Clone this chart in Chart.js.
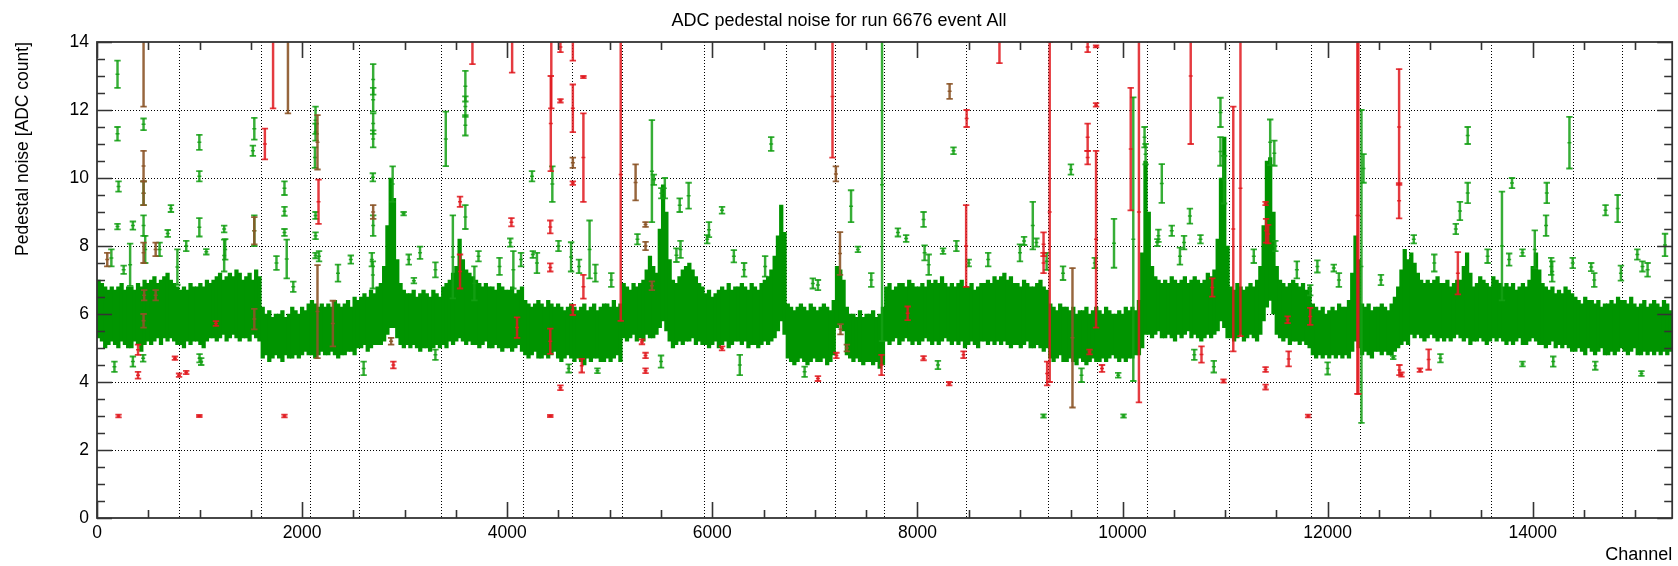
<!DOCTYPE html>
<html><head><meta charset="utf-8">
<script src="https://cdn.jsdelivr.net/npm/chart.js@4"></script>
<style>html,body{margin:0;padding:0;background:#fff;overflow:hidden}canvas{display:block}</style>
</head><body>
<canvas id="c" width="1678" height="566"></canvas>
<script>
// ---- axis / category data ----
const channelMax = 15360;
const binWidth = 32; // channels per band bin
const xTickValues = [0, 2000, 4000, 6000, 8000, 10000, 12000, 14000];
const yTickValues = [0, 2, 4, 6, 8, 10, 12, 14];
const moduleEdges = [800,1600,2080,2560,3360,4160,4640,5120,5920,6720,7200,7680,8480,9280,9760,10240,11040,11840,12320,12800,13600,14400,14880];

// ---- dense green band: upper / lower extent per 32-channel bin ----
const bandHi = [
7.0,6.9,6.8,6.7,6.8, 6.7,6.8,6.9,6.7,6.8,
6.8,6.7,6.9,6.8,7.0, 6.9,7.0,7.1,6.9,7.0,
7.1,7.2,7.0,6.9,6.8, 6.7,6.8,6.7,6.9,6.8,
6.8,6.9,6.8,7.0,6.9, 7.0,7.1,7.2,7.0,7.1,
7.2,7.1,7.3,7.2,7.0, 7.1,7.2,7.0,7.3,7.1,
6.2,6.0,6.1,5.9,6.0, 6.0,6.1,5.9,6.0,6.2,
6.1,6.0,6.2,6.1,6.3, 6.4,6.3,6.2,6.3,6.2,
6.3,6.2,6.4,6.3,6.2, 6.3,6.4,6.2,6.5,6.4,
6.5,6.6,6.5,6.7,6.6, 6.8,6.9,7.4,8.6,10.0,
9.4,7.6,6.9,6.7,6.6, 6.6,6.7,6.5,6.6,6.7,
6.6,6.5,6.7,6.6,6.5, 6.8,6.9,7.0,7.2,7.4,
8.2,7.6,7.3,7.2,7.1, 7.0,6.9,6.8,6.9,6.8,
6.8,6.7,6.9,6.8,6.7, 6.7,6.8,6.6,6.7,6.8,
6.4,6.3,6.2,6.3,6.4, 6.3,6.2,6.4,6.3,6.2,
6.3,6.2,6.1,6.2,6.3, 6.2,6.1,6.2,6.3,6.1,
6.2,6.3,6.1,6.2,6.3, 6.3,6.2,6.4,6.2,6.3,
6.9,6.8,6.7,6.9,6.8, 6.9,7.0,7.3,7.7,7.4,
7.2,8.5,9.8,9.0,7.6, 7.0,6.9,7.1,7.3,7.4,
7.5,7.3,7.1,6.9,6.8, 6.6,6.7,6.5,6.6,6.7,
6.8,6.7,6.9,6.7,6.8, 6.8,6.9,6.8,6.7,6.9,
6.8,6.7,6.9,7.0,7.1, 7.3,7.7,8.3,9.2,8.4,
6.3,6.2,6.1,6.2,6.3, 6.2,6.1,6.3,6.2,6.1,
6.2,6.3,6.2,6.1,6.4, 7.4,7.3,7.0,6.2,6.0,
6.0,5.9,6.1,5.9,6.0, 6.0,6.1,5.9,6.0,6.2,
6.8,6.9,6.7,6.8,6.9, 6.9,6.8,7.0,6.9,6.8,
6.8,6.9,6.8,7.0,6.9, 7.0,6.9,7.1,6.9,6.8,
6.9,6.8,6.9,7.0,6.8, 6.8,6.9,6.7,6.8,6.9,
6.9,7.0,6.9,7.1,7.0, 7.1,7.2,7.0,7.1,6.9,
6.9,6.8,7.0,6.9,6.8, 6.8,6.9,7.0,6.8,6.7,
6.3,6.2,6.1,6.3,6.2, 6.2,6.1,6.2,6.0,6.1,
6.1,6.2,6.0,6.1,6.2, 6.1,6.0,6.2,6.1,6.0,
6.0,6.1,6.0,6.2,6.1, 6.2,6.1,6.4,7.8,10.5,
9.0,7.4,7.1,7.0,6.9, 7.0,6.9,7.1,7.0,6.9,
7.0,7.1,6.9,7.0,7.1, 7.0,6.9,7.0,7.2,7.1,
7.3,8.2,10.0,11.2,8.0, 6.8,6.7,6.9,6.8,6.7,
6.8,6.9,6.8,7.0,7.4, 8.6,10.5,10.6,9.0,7.4,
7.0,6.9,6.8,6.9,7.0, 6.9,6.8,6.9,6.7,6.8,
6.3,6.2,6.1,6.2,6.0, 6.1,6.2,6.1,6.3,6.2,
6.2,6.4,7.2,8.3,7.6, 6.3,6.2,6.3,6.1,6.2,
6.2,6.3,6.2,6.1,6.3, 6.5,6.8,7.3,7.9,7.6,
7.8,7.5,7.2,7.0,6.9, 7.0,6.9,7.0,7.1,6.9,
6.9,7.0,6.8,6.9,7.0, 7.0,7.4,7.8,7.2,6.8,
6.9,7.1,7.0,6.9,6.8, 7.1,7.0,6.9,6.8,6.9,
6.8,6.9,6.7,6.8,6.9, 6.8,7.0,7.4,7.8,7.3,
6.9,6.8,6.7,6.8,6.6, 6.7,6.6,6.8,6.7,6.6,
6.5,6.4,6.3,6.5,6.4, 6.4,6.3,6.4,6.2,6.3,
6.3,6.4,6.3,6.5,6.4, 6.4,6.3,6.5,6.3,6.2,
6.3,6.4,6.2,6.3,6.4, 6.3,6.2,6.4,6.3,6.1
];
const bandLo = [
5.3,5.2,5.0,5.1,5.2, 5.1,5.0,5.2,5.1,5.0,
5.0,5.2,5.1,4.9,5.1, 5.2,5.1,5.2,5.3,5.1,
5.3,5.2,5.3,5.2,5.1, 5.1,5.0,5.2,5.1,5.2,
5.2,5.1,5.0,5.2,5.3, 5.3,5.2,5.3,5.4,5.2,
5.3,5.4,5.3,5.2,5.3, 5.3,5.2,5.4,5.3,5.2,
4.7,4.8,4.6,4.7,4.8, 4.7,4.6,4.8,4.7,4.7,
4.8,4.7,4.8,4.9,4.8, 4.8,4.7,4.8,4.9,4.8,
4.8,4.9,4.8,4.7,4.8, 4.8,4.9,4.9,4.8,5.0,
5.0,5.1,4.9,5.0,5.1, 5.1,5.1,5.2,5.4,5.6,
5.6,5.3,5.1,5.0,5.1, 5.0,5.1,5.0,4.9,5.0,
5.0,4.9,5.0,5.1,5.0, 5.1,5.0,5.2,5.1,5.2,
5.3,5.2,5.1,5.2,5.1, 5.1,5.0,5.1,5.2,5.0,
5.0,5.1,5.0,4.9,5.0, 5.0,4.9,5.0,5.1,4.9,
4.8,4.7,4.8,4.9,4.7, 4.7,4.8,4.7,4.8,4.9,
4.7,4.6,4.7,4.8,4.7, 4.6,4.7,4.6,4.5,4.7,
4.6,4.7,4.7,4.6,4.6, 4.7,4.6,4.7,4.8,4.6,
5.3,5.2,5.3,5.4,5.2, 5.3,5.2,5.4,5.3,5.3,
5.4,5.6,5.8,5.5,5.2, 5.0,5.1,5.2,5.1,5.2,
5.2,5.3,5.1,5.2,5.1, 5.1,5.0,5.1,5.2,5.0,
5.1,5.2,5.0,5.1,5.2, 5.2,5.1,5.2,5.0,5.1,
5.1,5.0,5.1,5.2,5.1, 5.2,5.3,5.5,5.8,5.4,
4.7,4.6,4.5,4.6,4.7, 4.6,4.5,4.6,4.7,4.6,
4.6,4.7,4.5,4.6,4.8, 5.6,5.7,5.5,4.8,4.7,
4.6,4.7,4.6,4.5,4.6, 4.6,4.5,4.6,4.4,4.5,
5.2,5.1,5.2,5.3,5.1, 5.2,5.3,5.2,5.1,5.2,
5.1,5.2,5.3,5.2,5.1, 5.2,5.1,5.2,5.3,5.2,
5.1,5.2,5.1,5.2,5.0, 5.1,5.2,5.1,5.0,5.2,
5.2,5.1,5.2,5.1,5.2, 5.1,5.2,5.1,5.0,5.1,
5.1,5.0,5.1,5.2,5.0, 5.0,5.1,5.0,4.9,5.0,
4.7,4.6,4.7,4.8,4.6, 4.6,4.7,4.6,4.5,4.7,
4.6,4.5,4.6,4.7,4.6, 4.6,4.7,4.6,4.7,4.8,
4.7,4.6,4.7,4.6,4.7, 4.7,4.8,4.8,5.0,5.4,
5.4,5.3,5.4,5.5,5.3, 5.3,5.4,5.3,5.2,5.4,
5.3,5.4,5.5,5.3,5.4, 5.3,5.2,5.3,5.4,5.3,
5.4,5.5,5.8,5.6,5.3, 5.3,5.2,5.3,5.4,5.2,
5.3,5.4,5.3,5.2,5.4, 5.8,6.2,6.4,6.0,5.4,
5.3,5.2,5.3,5.1,5.2, 5.2,5.1,5.2,5.1,5.0,
4.8,4.7,4.8,4.7,4.8, 4.7,4.8,4.7,4.8,4.7,
4.8,4.7,4.9,5.2,5.0, 4.8,4.9,4.8,4.7,4.9,
4.9,4.8,4.9,4.8,4.8, 4.9,5.0,5.1,5.2,5.1,
5.4,5.3,5.4,5.3,5.2, 5.3,5.4,5.3,5.2,5.3,
5.2,5.3,5.2,5.3,5.4, 5.3,5.2,5.3,5.1,5.2,
5.2,5.3,5.2,5.1,5.2, 5.3,5.2,5.3,5.2,5.1,
5.2,5.1,5.2,5.3,5.1, 5.1,5.2,5.3,5.2,5.1,
5.1,5.0,5.1,5.2,5.0, 5.1,5.0,5.1,5.0,4.9,
4.9,5.0,4.9,4.8,5.0, 4.9,4.8,4.9,5.0,4.8,
4.8,4.9,4.8,4.9,5.0, 4.9,4.8,4.9,5.0,4.8,
4.8,4.9,4.8,4.9,4.8, 4.9,4.8,4.9,4.8,4.9
];

// ---- isolated green error bars: channel, value, half-error ----
const greenX = [
200,200,210,200,260,323,454,454,454,470,
721,690,784,998,998,998,1066,1240,1240,1534,
1520,1534,1828,1828,1828,1850,1914,2131,2131,2125,
2131,2131,2131,2693,2693,2693,2693,2690,2693,2690,
2883,2990,3040,3090,3401,3470,3592,3592,3592,3592,
3680,4060,4242,4250,4440,170,1016,450,4623,4803,
4880,5411,5430,5503,5537,5682,5769,5650,5967,6095,
6268,6574,7030,7353,7420,7655,7890,8060,8110,8250,
8352,8500,9040,9125,9230,9260,9497,9917,9958,10010,
10105,10215,10225,10383,10340,10480,10600,10657,10890,10955,
10955,10990,11440,11480,11830,12060,12330,12350,12640,13290,
13366,13366,13700,13798,13900,13900,14020,14130,14137,14190,
14358,14570,14610,14710,14828,15020,15060,15120,15290,
140,350,610,870,1250,1750,2165,2350,2475,2680,
3150,3300,3720,3925,4030,4135,4290,4500,4700,4860,
5015,5270,5690,5950,6210,6310,6515,6980,7550,7810,
8070,8380,8690,9000,9160,9420,9730,10350,10560,10760,
11280,11490,11700,11900,12110,12520,12840,13040,13250,13560,
13770,14180,14390,14600,14860,15070,350,1000,2600,3300,
4600,5500,6900,8200,9600,10700,12000,13100,14200];
const greenY = [
13.05,11.30,9.75,8.57,7.30,7.45,11.58,9.55,8.60,7.90,
9.10,8.37,7.38,11.05,10.05,8.55,7.83,8.50,7.72,11.45,
10.80,8.45,9.70,9.02,8.40,7.62,6.80,11.70,11.35,10.60,
8.90,8.30,7.72,12.90,12.30,11.60,11.15,10.02,8.60,7.15,
9.82,8.95,7.60,6.98,11.15,7.68,12.70,12.10,11.55,8.85,
6.90,7.30,10.05,7.75,9.82,4.45,4.60,4.70,7.68,7.90,
4.33,10.20,9.95,9.55,9.70,9.20,9.48,7.73,8.48,9.05,
4.50,11.00,6.85,9.17,7.90,9.80,8.22,8.78,7.45,7.85,
10.80,7.50,8.15,8.60,3.00,7.55,10.25,8.08,4.20,3.00,
8.20,11.20,10.70,9.84,8.10,8.45,8.10,8.88,4.45,11.93,
10.78,9.95,11.05,10.73,6.70,7.35,7.40,10.28,4.72,9.03,
11.25,9.56,8.00,9.85,4.53,7.80,7.90,8.60,9.56,7.25,
11.04,7.38,4.48,9.05,9.10,7.75,4.25,7.30,8.03,
7.65,8.60,7.90,8.00,7.90,7.50,7.70,7.20,7.60,7.60,
7.80,7.30,7.70,7.40,8.10,7.60,7.50,8.00,7.40,7.20,
7.00,8.20,7.90,8.20,7.70,7.30,7.40,6.90,7.00,8.40,
7.80,8.00,7.60,7.80,8.10,7.20,7.50,8.30,7.70,8.20,
7.70,8.00,7.30,7.40,7.00,7.00,8.20,7.50,8.50,7.70,
7.60,7.40,7.50,7.00,7.20,7.40,4.60,4.70,4.40,4.80,
4.40,4.60,4.30,4.50,4.20,4.80,4.40,4.70,4.60];
const greenE = [
0.40,0.20,0.15,0.08,0.12,0.62,0.17,0.35,0.30,0.40,
0.10,0.10,0.52,0.22,0.15,0.27,0.08,0.10,0.47,0.32,
0.15,0.45,0.20,0.13,0.10,0.57,0.15,0.40,0.25,0.30,
0.10,0.10,0.08,0.45,0.35,0.30,0.25,0.12,0.30,0.40,
0.52,0.05,0.15,0.08,0.80,1.22,0.45,0.30,0.30,0.35,
0.50,0.55,0.15,0.10,0.52,0.15,0.10,0.10,0.43,0.85,
0.07,1.50,0.15,0.15,0.30,0.20,0.38,0.20,0.22,0.10,
0.30,0.20,0.15,0.47,0.08,4.60,0.10,0.22,0.30,0.08,
0.10,0.10,0.12,0.70,0.05,0.25,0.15,0.72,0.07,0.05,
4.17,0.30,0.30,0.57,0.10,0.15,0.20,0.22,0.17,0.43,
0.42,0.70,0.67,0.37,0.15,0.10,4.60,0.42,0.05,0.27,
0.25,0.30,1.60,0.15,0.07,0.10,0.56,0.30,0.30,0.30,
0.76,0.12,0.12,0.15,0.40,0.15,0.07,0.20,0.33,
0.25,0.12,0.20,0.15,0.30,0.20,0.15,0.25,0.12,0.20,
0.18,0.22,0.15,0.25,0.12,0.20,0.30,0.15,0.20,0.25,
0.20,0.15,0.25,0.12,0.18,0.20,0.30,0.15,0.20,0.12,
0.22,0.15,0.20,0.25,0.12,0.20,0.15,0.18,0.25,0.12,
0.20,0.15,0.25,0.18,0.20,0.15,0.12,0.25,0.15,0.20,
0.18,0.25,0.15,0.20,0.22,0.15,0.15,0.12,0.20,0.15,
0.12,0.18,0.15,0.12,0.20,0.15,0.18,0.12,0.15];

// ---- red error bars ----
const redX = [
210,400,400,760,800,870,998,1160,1637,1717,
1828,2160,2890,3540,3540,3661,4041,4048,4096,4420,
4420,4420,4420,4425,4430,4519,4519,4519,4640,4640,
4640,4640,4727,4743,4743,4743,5107,5314,5349,5349,
6095,7030,7172,7210,7650,7905,8060,8310,8450,8480,
8475,8800,9230,9230,9265,9290,9660,9660,9660,9678,
9742,9742,9742,9800,10080,10160,10665,10770,10875,10985,
11080,11150,11395,11400,11420,11395,11395,11610,11620,11830,
11810,12290,12300,12697,12697,12700,12720,12900,12985,13270];
const redY = [
3.00,4.95,4.20,4.70,4.20,4.28,3.00,5.72,11.00,15.00,
3.00,9.30,4.50,7.25,9.30,15.00,8.70,15.00,5.60,8.56,
7.37,5.20,3.00,11.60,15.00,13.85,12.27,3.83,15.00,12.05,
9.85,6.12,4.48,12.97,10.60,6.80,10.10,5.18,4.78,4.33,
4.99,4.10,12.40,4.78,4.50,6.02,4.70,3.95,4.80,11.75,
8.00,14.00,8.05,7.50,4.25,9.00,13.85,11.20,10.60,4.88,
13.87,12.15,8.20,4.40,10.85,9.00,13.00,4.81,6.78,4.03,
8.50,9.70,9.25,8.45,8.35,4.37,3.85,5.83,4.68,5.93,
3.00,8.90,8.90,11.50,9.33,4.35,4.22,4.35,4.66,7.20];
const redE = [
0.04,0.15,0.10,0.05,0.05,0.05,0.03,0.07,0.45,2.95,
0.04,0.65,0.10,0.50,0.15,1.65,0.12,1.90,0.30,0.19,
0.12,0.37,0.03,1.40,2.95,0.15,0.05,0.07,1.55,0.70,
0.05,0.15,0.20,0.03,1.30,0.35,4.30,0.07,0.08,0.07,
0.06,0.07,1.80,0.08,0.30,0.20,0.06,0.05,0.10,0.25,
1.20,0.62,0.35,0.30,0.35,5.00,0.15,0.40,0.20,0.07,
0.03,0.05,2.60,0.10,1.80,5.60,2.00,0.24,0.27,0.05,
3.60,4.35,0.05,0.35,0.27,0.07,0.07,0.10,0.22,0.25,
0.04,5.25,5.25,1.70,0.52,0.15,0.06,0.05,0.30,0.62];

// ---- brown error bars ----
const brownX = [
100,454,454,454,454,460,454,572,572,1534,
1534,1862,2150,2150,2300,2693,2868,4640,5252,5349,
5349,5411,7205,7245,7250,7312,8314,9512];
const brownY = [
7.60,14.50,10.35,9.55,7.80,6.55,5.80,7.90,6.55,8.45,
5.85,15.00,11.05,6.07,5.72,9.00,5.20,10.45,9.87,8.00,
8.63,6.83,10.12,7.78,5.55,5.00,12.55,5.30];
const brownE = [
0.20,2.40,0.45,0.35,0.30,0.15,0.20,0.20,0.15,0.40,
0.30,3.10,0.80,1.37,0.67,0.20,0.10,0.15,0.53,0.12,
0.07,0.13,0.22,0.63,0.15,0.10,0.22,2.05];

// ---- styling ----
const FONT = 'Liberation Sans, Arial, Helvetica, sans-serif';
const BAND_COLOR = 'rgb(0,148,0)';

function errorBarDatasets(xs, ys, es, color, order) {
  return [
    { type: 'bar', data: xs.map((x, i) => ({ x, y: [ys[i] - es[i], ys[i] + es[i]] })),
      backgroundColor: color, borderWidth: 0, barThickness: 1.8, grouped: false, order, clip: 0 },
    { type: 'scatter', data: xs.flatMap((x, i) => [{ x, y: ys[i] - es[i] }, { x, y: ys[i] + es[i] }]),
      pointStyle: 'line', pointRadius: 3.2, borderColor: color, borderWidth: 1.8, order: order - 0.5, clip: 0 },
    { type: 'scatter', data: xs.map((x, i) => ({ x, y: ys[i] })),
      pointStyle: 'line', pointRadius: 2, borderColor: color, borderWidth: 1.5, order: order - 0.5, clip: 0 }
  ];
}

const datasets = [
  { type: 'bar', data: bandHi.map((h, i) => ({ x: i * binWidth + binWidth / 2, y: [bandLo[i], h] })),
    backgroundColor: BAND_COLOR, borderWidth: 0, barThickness: 3.6, grouped: false, order: 20, clip: 0 },
  ...errorBarDatasets(greenX, greenY, greenE, 'rgba(20,160,20,0.85)', 10),
  ...errorBarDatasets(brownX, brownY, brownE, 'rgba(140,85,40,0.9)', 6),
  ...errorBarDatasets(redX, redY, redE, 'rgba(225,25,30,0.85)', 3)
];

const framePlugin = {
  id: 'frame',
  afterDraw(chart) {
    const { ctx, chartArea: a, scales } = chart;
    const x = scales.x, y = scales.y;
    ctx.save();
    ctx.strokeStyle = '#333';
    ctx.lineWidth = 1.6;
    ctx.beginPath();
    for (let v = 0; v <= channelMax; v += 500) {
      const px = Math.round(x.getPixelForValue(v)) + 0.5;
      const len = v % 2000 === 0 ? 16 : 8;
      ctx.moveTo(px, a.bottom); ctx.lineTo(px, a.bottom - len);
      ctx.moveTo(px, a.top); ctx.lineTo(px, a.top + len);
    }
    for (let v = 0; v <= 14; v += 0.5) {
      const py = Math.round(y.getPixelForValue(v)) + 0.5;
      const len = v % 2 === 0 ? 15 : 8;
      ctx.moveTo(a.left, py); ctx.lineTo(a.left + len, py);
      ctx.moveTo(a.right, py); ctx.lineTo(a.right - len, py);
    }
    ctx.stroke();
    ctx.lineWidth = 1.8;
    ctx.strokeRect(a.left, a.top, a.right - a.left, a.bottom - a.top);
    ctx.restore();
  }
};

new Chart(document.getElementById('c'), {
  type: 'bar',
  data: { datasets },
  plugins: [framePlugin],
  options: {
    responsive: false,
    animation: false,
    events: [],
    layout: { padding: 0 },
    plugins: {
      legend: { display: false },
      tooltip: { enabled: false },
      title: { display: true, text: 'ADC pedestal noise for run 6676 event All',
        font: { family: FONT, size: 18, weight: 'normal' }, color: '#000',
        padding: { top: 10, bottom: 10.4 } }
    },
    scales: {
      x: {
        type: 'linear', min: 0, max: channelMax, position: 'bottom', offset: false,
        afterBuildTicks: s => { s.ticks = xTickValues.map(v => ({ value: v })); },
        ticks: { font: { family: FONT, size: 17.5 }, color: '#000', padding: 5, maxRotation: 0, autoSkip: false,
                 callback: v => String(v) },
        grid: { display: false, drawTicks: false, offset: false },
        border: { display: false },
        title: { display: true, text: 'Channel', align: 'end', font: { family: FONT, size: 18 }, color: '#000',
                 padding: { top: 0, bottom: 0 } },
        afterFit: s => { s.height = 48; }
      },
      xg: {
        type: 'linear', min: 0, max: channelMax, position: 'bottom', z: 1, offset: false,
        afterBuildTicks: s => { s.ticks = moduleEdges.map(v => ({ value: v })); },
        ticks: { display: false },
        grid: { drawTicks: false, color: '#000', lineWidth: 1, offset: false },
        border: { display: false, dash: [1, 2] },
        afterFit: s => { s.height = 0; }
      },
      y: {
        type: 'linear', min: 0, max: 14, z: 1,
        afterBuildTicks: s => { s.ticks = yTickValues.map(v => ({ value: v })); },
        ticks: { font: { family: FONT, size: 17.5 }, color: '#000', padding: 8 },
        grid: { drawTicks: false, lineWidth: 1,
                color: c => (c.tick && (c.tick.value === 0 || c.tick.value === 14)) ? 'rgba(0,0,0,0)' : '#000' },
        border: { display: false, dash: [1, 2] },
        title: { display: true, text: 'Pedestal noise [ADC count]', align: 'end',
                 font: { family: FONT, size: 17.5 }, color: '#000', padding: { top: 13, bottom: 0 } },
        afterFit: s => { s.width = 97; }
      }
    }
  }
});
</script>
</body></html>
